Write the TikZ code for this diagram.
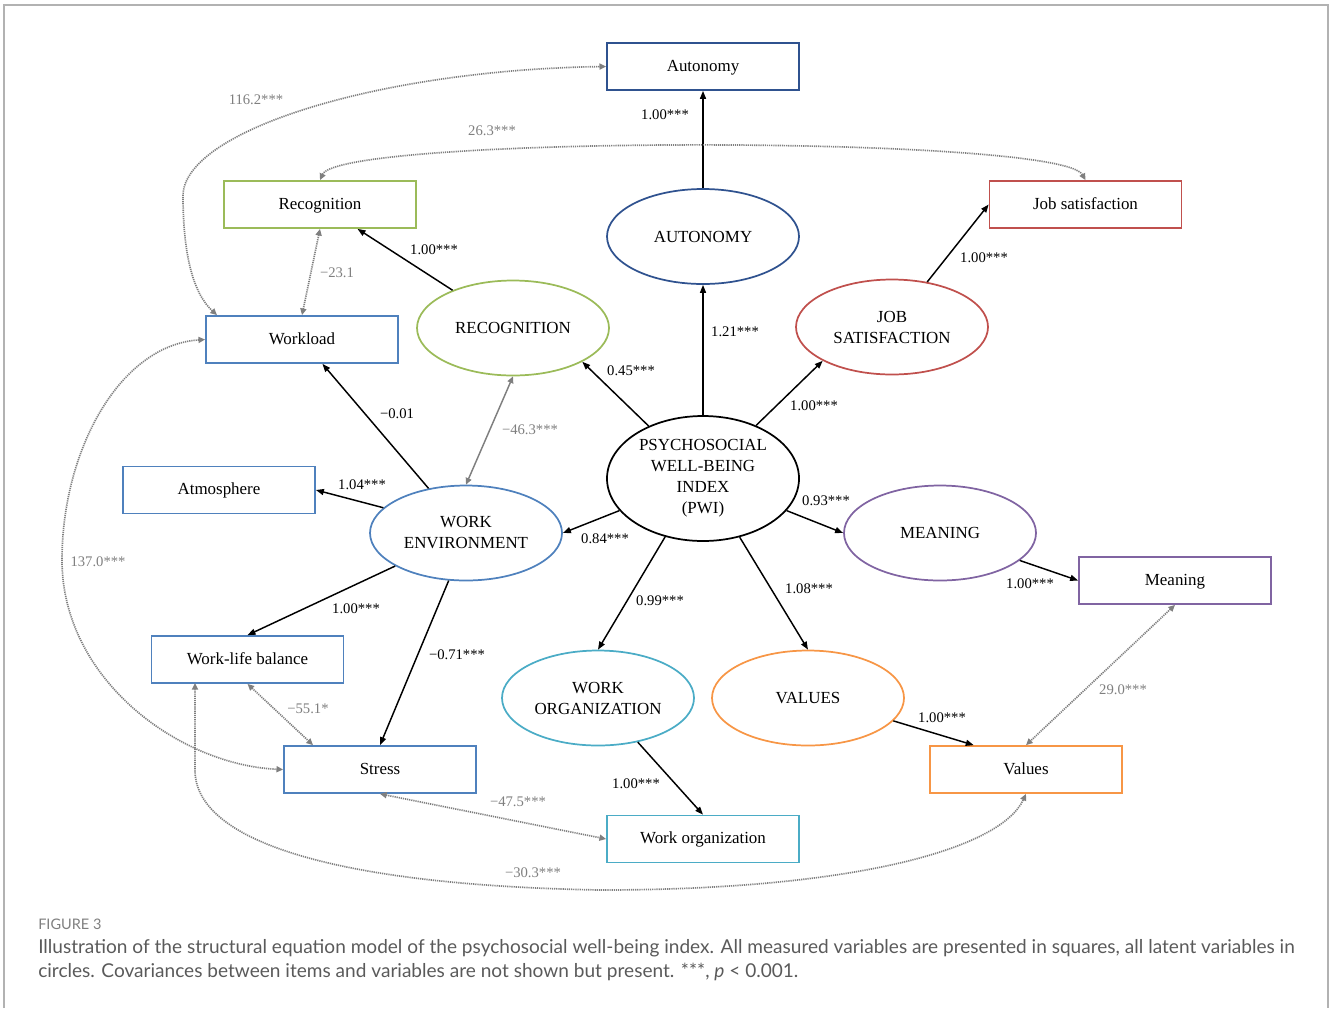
\documentclass[tikz,border=0pt]{standalone}
\usepackage{fontspec}
\setmainfont{Liberation Serif}
\newfontfamily\capfont{Lato}
\usetikzlibrary{shapes.geometric,arrows.meta}
\definecolor{navy}{HTML}{2F528F}
\definecolor{cblue}{HTML}{4F81BD}
\definecolor{cgreen}{HTML}{9BBB59}
\definecolor{cred}{HTML}{C0504D}
\definecolor{cpurple}{HTML}{8064A2}
\definecolor{cteal}{HTML}{4BACC6}
\definecolor{corange}{HTML}{F79646}
\definecolor{covgray}{HTML}{7F7F7F}
\definecolor{capgray}{HTML}{5A5A5A}
\newcommand{\nodefont}{\fontsize{12.7}{15.75}\selectfont}
\newcommand{\labfont}{\fontsize{11}{13}\selectfont}
\tikzset{
  box/.style={draw, rectangle, minimum width=144pt, minimum height=35.25pt, line width=1.3pt, inner sep=0pt, font=\nodefont, text=black, text height=9pt, text depth=2pt},
  lat/.style={draw, ellipse, minimum width=144pt, minimum height=71.25pt, line width=1.3pt, inner sep=0pt, align=center, font=\nodefont, text=black},
  arr/.style={line width=1.1pt, -{Triangle[length=6pt,width=4.5pt]}},
  cov/.style={covgray, line width=1.25pt, dash pattern=on 0.9pt off 0.7pt, {Triangle[length=5pt,width=4.5pt]}-{Triangle[length=5pt,width=4.5pt]}},
  covsolid/.style={covgray, line width=1.1pt, {Triangle[length=5pt,width=4.5pt]}-{Triangle[length=5pt,width=4.5pt]}},
  lab/.style={font=\labfont, inner sep=0pt, text=black},
  glab/.style={font=\labfont, inner sep=0pt, text=covgray}
}
\begin{document}
\begin{tikzpicture}[x=0.75pt, y=-0.75pt]
\useasboundingbox (0,0) rectangle (1330,1008);
\draw[gray!60, line width=1.5pt] (4,1008) -- (4,5) -- (1328,5) -- (1328,1008);

% measured variables
\node[box, draw=navy] (autbox) at (703,66.5) {Autonomy};
\node[box, draw=cgreen] (recbox) at (320,204.5) {Recognition};
\node[box, draw=cred] (jsbox) at (1085.5,204.5) {Job satisfaction};
\node[box, draw=cblue] (wlbox) at (302,339.5) {Workload};
\node[box, draw=cblue] (atm) at (219,490) {Atmosphere};
\node[box, draw=cblue] (wlb) at (247.5,659.5) {Work-life balance};
\node[box, draw=cblue] (stress) at (380,769.5) {Stress};
\node[box, draw=cteal] (wobox) at (703,839) {Work organization};
\node[box, draw=corange] (valbox) at (1026,769.5) {Values};
\node[box, draw=cpurple] (meanbox) at (1175,580.5) {Meaning};

% latent variables
\node[lat, draw=navy] (aut) at (703,236.5) {AUTONOMY};
\node[lat, draw=cgreen] (rec) at (513,328) {RECOGNITION};
\node[lat, draw=cred] (js) at (892,327) {JOB\\SATISFACTION};
\node[lat, draw=black, minimum height=93.75pt] (pwi) at (703,478.5) {PSYCHOSOCIAL\\WELL-BEING\\INDEX\\(PWI)};
\node[lat, draw=cblue] (wenv) at (466,533) {WORK\\ENVIRONMENT};
\node[lat, draw=cpurple] (mean) at (940,533) {MEANING};
\node[lat, draw=cteal] (wo) at (598,698) {WORK\\ORGANIZATION};
\node[lat, draw=corange] (val) at (808,698) {VALUES};

% structural paths
\draw[arr] (aut.north) -- (autbox.south);
\draw[arr] (pwi.north) -- (aut.south);
\draw[arr] (pwi.136) -- (rec.-26);
\draw[arr] (pwi.45) -- (js.-154);
\draw[arr] (pwi.-21) -- (mean.west);
\draw[arr] (pwi.-58) -- (val.north);
\draw[arr] (pwi.-123) -- (wo.north);
\draw[arr] (pwi.-159) -- (wenv.east);
\draw[arr] (rec.148) -- (recbox.-33);
\draw[arr] (js.52) -- (jsbox.west);
\draw[arr] (wenv.130) -- (wlbox.-50);
\draw[arr] (wenv.163) -- (atm.east);
\draw[arr] (wenv.205) -- (wlb.north);
\draw[arr] (wenv.250) -- (stress.north);
\draw[arr] (mean.-19) -- (meanbox.west);
\draw[arr] (val.-15) -- (valbox.155);
\draw[arr] (wo.-48) -- (wobox.north);

% covariances
\draw[covsolid] (rec.south) -- (wenv.north);
\draw[cov] (recbox.south) -- (wlbox.north);
\draw[cov] (wlbox.164) .. controls (195,295) and (183,260) .. (183,195) .. controls (185,130) and (380,70) .. (autbox.west);
\draw[cov] (recbox.north) .. controls (340,135) and (1060,135) .. (jsbox.north);
\draw[cov] (wlbox.west) .. controls (120,345) and (62,450) .. (62,560) .. controls (62,680) and (180,765) .. (stress.west);
\coordinate (wlbdown) at (195,683);
\draw[cov] (wlbdown) -- (195,770) .. controls (195,840) and (330,885) .. (600,890) .. controls (850,890) and (1000,850) .. (valbox.south);
\draw[cov] (wlb.south) -- (stress.160.7);
\draw[cov] (stress.south) -- (wobox.west);
\draw[cov] (meanbox.south) -- (valbox.north);

% labels
\node[glab] at (256,100) {116.2***};
\node[glab] at (492,131) {26.3***};
\node[lab] at (665,115) {1.00***};
\node[glab] at (337,273) {−23.1};
\node[lab] at (434,250) {1.00***};
\node[lab] at (984,258) {1.00***};
\node[lab] at (735,332) {1.21***};
\node[lab] at (631,371) {0.45***};
\node[lab] at (814,406) {1.00***};
\node[lab] at (397,414) {−0.01};
\node[glab] at (530,430) {−46.3***};
\node[lab] at (362,485) {1.04***};
\node[lab] at (826,501) {0.93***};
\node[lab] at (605,539) {0.84***};
\node[glab] at (98,562) {137.0***};
\node[lab] at (1030,584) {1.00***};
\node[lab] at (809,589) {1.08***};
\node[lab] at (356,609) {1.00***};
\node[lab] at (660,601) {0.99***};
\node[lab] at (457,655) {−0.71***};
\node[glab] at (1123,690) {29.0***};
\node[lab] at (942,718) {1.00***};
\node[glab] at (308,709) {−55.1*};
\node[lab] at (636,784) {1.00***};
\node[glab] at (518,802) {−47.5***};
\node[glab] at (533,873) {−30.3***};

% caption
\node[anchor=base west, inner sep=0pt, text=covgray, font=\capfont\fontsize{10.9}{13}\selectfont] (figlab) at (38,929) {FIGURE 3};
\node[anchor=base west, inner sep=0pt, text=capgray, font=\capfont\fontsize{14.3}{17}\selectfont] (cap1) at (38,953) {Illustration of the structural equation model of the psychosocial well-being index. All measured variables are presented in squares, all latent variables in};
\node[anchor=base west, inner sep=0pt, text=capgray, font=\capfont\fontsize{14.3}{17}\selectfont] (cap2) at (38,977) {circles. Covariances between items and variables are not shown but present. ***, \textit{p} < 0.001.};
\end{tikzpicture}
\end{document}
